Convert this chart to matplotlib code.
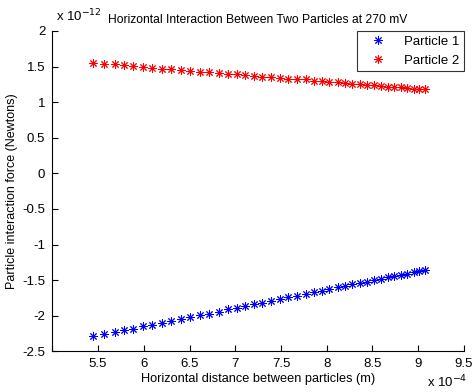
import matplotlib
matplotlib.use("Agg")
import matplotlib.pyplot as plt
from matplotlib.ticker import FuncFormatter

plt.rcParams['font.family'] = ['Liberation Sans', 'DejaVu Sans']

# distances in units of 1e-4 m, forces in units of 1e-12 N
dist = [5.45, 5.57, 5.68, 5.78, 5.88, 5.99, 6.09, 6.20, 6.30, 6.41,
        6.51, 6.61, 6.71, 6.82, 6.92, 7.02, 7.11, 7.20, 7.29, 7.39,
        7.49, 7.58, 7.68, 7.77, 7.86, 7.95, 8.03, 8.12, 8.20, 8.28,
        8.36, 8.44, 8.52, 8.59, 8.67, 8.74, 8.81, 8.88, 8.95, 9.01, 9.07]
force1 = [-2.29, -2.26, -2.23, -2.20, -2.18, -2.15, -2.13, -2.10, -2.07, -2.04,
          -2.02, -1.99, -1.97, -1.94, -1.91, -1.89, -1.86, -1.84, -1.82, -1.79,
          -1.77, -1.74, -1.72, -1.70, -1.67, -1.65, -1.63, -1.60, -1.58, -1.56,
          -1.54, -1.52, -1.50, -1.48, -1.46, -1.44, -1.43, -1.41, -1.39, -1.37, -1.36]
force2 = [1.55, 1.54, 1.53, 1.52, 1.51, 1.49, 1.48, 1.47, 1.46, 1.45,
          1.44, 1.43, 1.42, 1.41, 1.40, 1.39, 1.38, 1.37, 1.36, 1.35,
          1.34, 1.33, 1.32, 1.32, 1.30, 1.30, 1.29, 1.28, 1.27, 1.26,
          1.25, 1.24, 1.24, 1.23, 1.22, 1.21, 1.21, 1.20, 1.19, 1.19, 1.18]
xscale = 1e-4
yscale = 1e-12

x = [d * xscale for d in dist]
y1 = [f * yscale for f in force1]
y2 = [f * yscale for f in force2]

fig = plt.figure(figsize=(4.72, 3.92), dpi=100)
ax = fig.add_axes([0.1108, 0.1036, 0.8722, 0.8174])

star = (8, 2, 0)
ax.plot(x, y1, linestyle='none', marker=star, color='b', markersize=6,
        markeredgewidth=0.7, label='Particle 1')
ax.plot(x, y2, linestyle='none', marker=star, color='r', markersize=6,
        markeredgewidth=0.7, label='Particle 2')

ax.set_xlim(5 * xscale, 9.5 * xscale)
ax.set_ylim(-2.5 * yscale, 2 * yscale)
ax.set_xticks([v * xscale for v in [5, 5.5, 6, 6.5, 7, 7.5, 8, 8.5, 9, 9.5]])
ax.set_yticks([v * yscale for v in [-2.5, -2, -1.5, -1, -0.5, 0, 0.5, 1, 1.5, 2]])
ax.xaxis.set_major_formatter(FuncFormatter(lambda v, p: '%g' % round(v / xscale, 2) if p else ''))
ax.yaxis.set_major_formatter(FuncFormatter(lambda v, p: '%g' % round(v / yscale, 2)))

for s in ['top', 'right']:
    ax.spines[s].set_visible(False)
for s in ['left', 'bottom']:
    ax.spines[s].set_linewidth(0.8)
ax.tick_params(direction='in', length=4, width=0.8, labelsize=9.5, pad=5)

ax.set_xlabel('Horizontal distance between particles (m)', fontsize=9.2, labelpad=2)
ax.set_ylabel('Particle interaction force (Newtons)', fontsize=9, labelpad=3)
ax.set_title('Horizontal Interaction Between Two Particles at 270 mV', fontsize=8.7, pad=6)

fig.text(0.118, 0.945, r'x 10$^{-12}$', fontsize=9.5)
fig.text(0.905, 0.012, r'x 10$^{-4}$', fontsize=9.5)

leg = ax.legend(loc='upper right', fontsize=9.5, frameon=True, fancybox=False,
                borderpad=0.35, handlelength=2.4, borderaxespad=0.0,
                bbox_to_anchor=(1.0, 1.0))
leg.get_frame().set_edgecolor('black')
leg.get_frame().set_linewidth(0.8)

fig.savefig('out.png', dpi=100)
